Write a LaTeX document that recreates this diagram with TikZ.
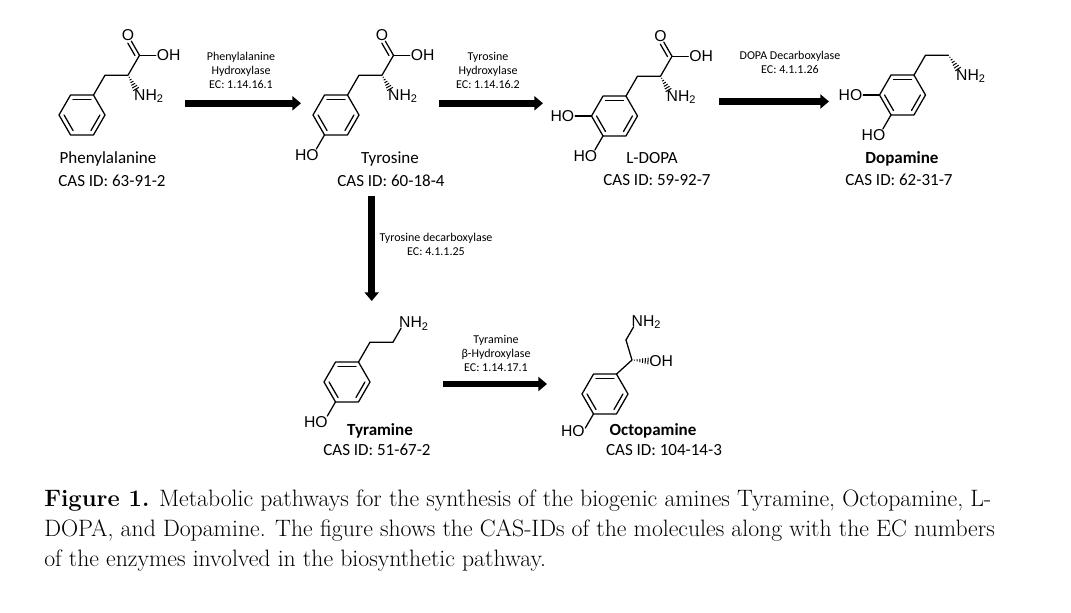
\documentclass[tikz,border=0pt]{standalone}
\usepackage{fontspec}
\newfontfamily\atomfamily{Liberation Sans}
\newfontfamily\namefamily{Carlito}
\newcommand*{\atomfont}{\atomfamily\fontsize{11.8}{12}\selectfont}
\newcommand*{\namefont}{\namefamily\fontsize{12.75}{15}\selectfont}
\newcommand*{\enzfont}{\namefamily\fontsize{9}{10.5}\selectfont}
\newcommand*{\capfont}{\fontsize{17.8}{22}\selectfont}
\usepackage{tikz}
\usetikzlibrary{arrows.meta}
\usetikzlibrary{calc}
\tikzstyle{base}=[x=0.75pt, y=-0.75pt]
\tikzstyle{bond}=[line width=0.95pt, line cap=round, line join=round]
\tikzstyle{hash}=[line width=0.75pt]
\tikzstyle{tolabel}=[shorten >=5pt]
\tikzstyle{atom}=[font=\atomfont, inner sep=0pt]
\tikzstyle{molname}=[font=\namefont, inner sep=0pt, anchor=base]
\tikzstyle{enzyme}=[font=\enzfont, align=center, inner sep=0pt]
\tikzstyle{rxn}=[line width=5pt, -{Triangle[length=6.5pt, width=10.5pt]}]
\tikzstyle{caption}=[font=\capfont, inner sep=0pt, anchor=base west]

% ring: name, x, y of the centre
\newcommand*{\benzene}[3]{%
    \foreach \a [count=\i] in {0,60,...,300}
        \coordinate (#1\i) at ($(#2,#3)+(-\a:23)$);
    \draw[bond] (#11) -- (#12) -- (#13) -- (#14) -- (#15) -- (#16) -- cycle;
    \foreach \i/\j in {2/3,4/5,6/1}
        \draw[bond] ($(#2,#3)!0.78!(#1\i)$) -- ($(#2,#3)!0.78!(#1\j)$);
}
\newcommand*{\hashbond}[2]{%
    \foreach \t in {0.15,0.32,0.49,0.66,0.83,1}
        \draw[hash] ($(#1)!\t!(#2)!\t*2.5pt!90:(#1)$) -- ($(#1)!\t!(#2)!\t*2.5pt!-90:(#1)$);
}
% side chain of the amino acids on ring #1
\newcommand*{\aminoacid}[3]{%
    \coordinate (#1cb) at ($(#2,#3)+(23,-39.8)$);
    \coordinate (#1ca) at ($(#2,#3)+(46,-39.8)$);
    \coordinate (#1cc) at ($(#2,#3)+(57.5,-59.7)$);
    \coordinate (#1o) at ($(#2,#3)+(46,-79.6)$);
    \coordinate (#1oh) at ($(#2,#3)+(80.5,-59.7)$);
    \coordinate (#1n) at ($(#2,#3)+(57.5,-19.9)$);
    \coordinate (#1nh) at ($(#2,#3)+(54,-26)$);
    \draw[bond] (#12) -- (#1cb) -- (#1ca) -- (#1cc);
    \draw[bond, tolabel] (#1cc) -- (#1oh);
    \draw[bond, tolabel] (#1cc) -- (#1o);
    \draw[bond, tolabel] ($(#1cc)+(-4.5,0.3)$) -- ($(#1o)+(-3.5,2)$);
    \hashbond{#1ca}{#1nh}
    \node[atom] (#1-O) at (#1o) {O};
    \node[atom, anchor=base west] (#1-OH) at ($(#1oh)+(-6,5.5)$) {OH};
    \node[atom, anchor=base west] (#1-NH) at ($(#1n)+(-5.6,5.5)$) {NH\textsubscript{2}};
}

\begin{document}
\begin{tikzpicture}[base]
    \path[use as bounding box, fill=white] (0,0) rectangle (1071,613);

    % Phenylalanine
    \benzene{phe}{82}{115}
    \aminoacid{phe}{82}{115}
    \node[molname] (phe-name) at (108,164) {Phenylalanine};
    \node[molname] (phe-cas) at (112,186) {CAS ID: 63-91-2};

    % Tyrosine
    \benzene{tyr}{336}{115}
    \aminoacid{tyr}{336}{115}
    \coordinate (tyr-o4) at ($(tyr5)+(-11.5,19.9)$);
    \draw[bond, tolabel] (tyr5) -- (tyr-o4);
    \node[atom, anchor=base east] (tyr-HO) at ($(tyr-o4)+(6,5.5)$) {HO};
    \node[molname] (tyr-name) at (390,164) {Tyrosine};
    \node[molname] (tyr-cas) at (391,186) {CAS ID: 60-18-4};

    % L-DOPA
    \benzene{dopa}{614.5}{116}
    \aminoacid{dopa}{614.5}{116}
    \coordinate (dopa-o3) at ($(dopa4)+(-23,0)$);
    \coordinate (dopa-o4) at ($(dopa5)+(-11.5,19.9)$);
    \draw[bond, tolabel] (dopa4) -- (dopa-o3);
    \draw[bond, tolabel] (dopa5) -- (dopa-o4);
    \node[atom, anchor=base east] (dopa-HO3) at ($(dopa-o3)+(6,5.5)$) {HO};
    \node[atom, anchor=base east] (dopa-HO4) at ($(dopa-o4)+(6,5.5)$) {HO};
    \node[molname] (dopa-name) at (652,164) {L-DOPA};
    \node[molname] (dopa-cas) at (657,185.5) {CAS ID: 59-92-7};

    % Dopamine
    \benzene{dop}{902.5}{95}
    \coordinate (dop-c1) at ($(dop2)+(11.5,-19.9)$);
    \coordinate (dop-c2) at ($(dop-c1)+(23,0)$);
    \coordinate (dop-n) at ($(dop-c2)+(13,19.9)$);
    \coordinate (dop-nh) at ($(dop-n)+(-3.5,-6.1)$);
    \coordinate (dop-o3) at ($(dop4)+(-23,0)$);
    \coordinate (dop-o4) at ($(dop5)+(-11.5,19.9)$);
    \draw[bond] (dop2) -- (dop-c1) -- (dop-c2);
    \hashbond{dop-c2}{dop-nh}
    \draw[bond, tolabel] (dop4) -- (dop-o3);
    \draw[bond, tolabel] (dop5) -- (dop-o4);
    \node[atom, anchor=base west] (dop-NH) at ($(dop-n)+(-5.6,5.5)$) {NH\textsubscript{2}};
    \node[atom, anchor=base east] (dop-HO3) at ($(dop-o3)+(6,5.5)$) {HO};
    \node[atom, anchor=base east] (dop-HO4) at ($(dop-o4)+(6,5.5)$) {HO};
    \node[molname] (dop-name) at (902,164) {\bfseries Dopamine};
    \node[molname] (dop-cas) at (899,185.5) {CAS ID: 62-31-7};

    % Tyramine
    \benzene{tym}{347}{382}
    \coordinate (tym-c1) at ($(tym2)+(11.5,-19.9)$);
    \coordinate (tym-c2) at ($(tym-c1)+(23,0)$);
    \coordinate (tym-n) at ($(tym-c2)+(11.5,-19.9)$);
    \coordinate (tym-o4) at ($(tym5)+(-11.5,19.9)$);
    \draw[bond] (tym2) -- (tym-c1) -- (tym-c2);
    \draw[bond, tolabel] (tym-c2) -- (tym-n);
    \draw[bond, tolabel] (tym5) -- (tym-o4);
    \node[atom, anchor=base west] (tym-NH) at ($(tym-n)+(-5.6,5.5)$) {NH\textsubscript{2}};
    \node[atom, anchor=base east] (tym-HO) at ($(tym-o4)+(4,5.5)$) {HO};
    \node[molname] (tym-name) at (380,435.5) {\bfseries Tyramine};
    \node[molname] (tym-cas) at (377,455.5) {CAS ID: 51-67-2};

    % Octopamine
    \benzene{oct}{605}{394}
    \coordinate (oct-c1) at (632,360);
    \coordinate (oct-c2) at (626,340);
    \coordinate (oct-n) at (637,321);
    \coordinate (oct-oh) at (655,361);
    \coordinate (oct-ohh) at (648,361);
    \coordinate (oct-o4) at ($(oct5)+(-11.5,19.9)$);
    \draw[bond] (oct2) -- (oct-c1) -- (oct-c2);
    \draw[bond, tolabel] (oct-c2) -- (oct-n);
    \hashbond{oct-c1}{oct-ohh}
    \draw[bond, tolabel] (oct5) -- (oct-o4);
    \node[atom, anchor=base west] (oct-NH) at ($(oct-n)+(-5.6,5.5)$) {NH\textsubscript{2}};
    \node[atom, anchor=base west] (oct-OH) at ($(oct-oh)+(-6,5.5)$) {OH};
    \node[atom, anchor=base east] (oct-HO) at ($(oct-o4)+(3,3)$) {HO};
    \node[molname] (oct-name) at (653,435.5) {\bfseries Octopamine};
    \node[molname] (oct-cas) at (664,455.5) {CAS ID: 104-14-3};

    % reactions
    \coordinate (r1s) at (185,103.3);
    \coordinate (r1e) at (301,103.3);
    \coordinate (r2s) at (439,103.3);
    \coordinate (r2e) at (543,103.3);
    \coordinate (r3s) at (719,101.5);
    \coordinate (r3e) at (829,101.5);
    \coordinate (r4s) at (371.7,196);
    \coordinate (r4e) at (371.7,301);
    \coordinate (r5s) at (443,384);
    \coordinate (r5e) at (547,384);
    \draw[rxn] (r1s) -- (r1e);
    \draw[rxn] (r2s) -- (r2e);
    \draw[rxn] (r3s) -- (r3e);
    \draw[rxn] (r4s) -- (r4e);
    \draw[rxn] (r5s) -- (r5e);
    \node[enzyme] (r1-lab) at (241,70) {Phenylalanine\\Hydroxylase\\EC: 1.14.16.1};
    \node[enzyme] (r2-lab) at (488,70) {Tyrosine\\Hydroxylase\\EC: 1.14.16.2};
    \node[enzyme] (r3-lab) at (790,62) {DOPA Decarboxylase\\EC: 4.1.1.26};
    \node[enzyme] (r4-lab) at (436,244.5) {Tyrosine decarboxylase\\EC: 4.1.1.25};
    \node[enzyme] (r5-lab) at (496,353) {Tyramine\\β-Hydroxylase\\EC: 1.14.17.1};

    % caption
    \node[caption] (cap1) at (44,506.7) {\textbf{Figure 1.} Metabolic pathways for the synthesis of the biogenic amines Tyramine, Octopamine, L-};
    \node[caption] (cap2) at (44,536) {DOPA, and Dopamine. The figure shows the CAS-IDs of the molecules along with the EC numbers};
    \node[caption] (cap3) at (44,566) {of the enzymes involved in the biosynthetic pathway.};
\end{tikzpicture}
\end{document}
